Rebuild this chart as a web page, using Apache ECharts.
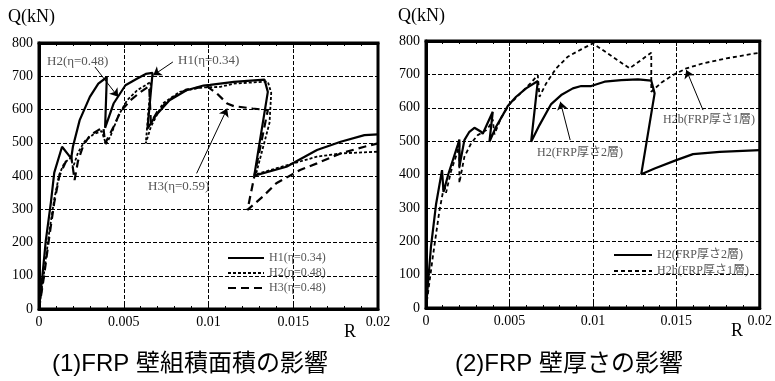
<!DOCTYPE html>
<html>
<head>
<meta charset="utf-8">
<script src="https://cdn.jsdelivr.net/npm/echarts@6/dist/echarts.min.js"></script>
<style>
  html, body { margin: 0; padding: 0; background: #fff; }
  #main { width: 775px; height: 381px; }
</style>
</head>
<body>
<div id="main"></div>
<script>
// (1) FRP 壁組積面積の影響  -- [R, Q(kN)]
var h1 = [[0,0],[0.0002,100],[0.0004,205],[0.0007,320],[0.0009,410],[0.00136,488],[0.0019,453],[0.002,488],
  [0.0024,568],[0.003,638],[0.0035,678],[0.004,697],[0.0039,545],[0.0044,618],[0.0051,673],[0.0058,693],
  [0.0063,707],[0.0067,710],[0.0064,542],[0.0069,583],[0.0077,628],[0.0087,658],[0.0097,672],[0.0101,674],
  [0.0115,683],[0.0133,690],[0.0135,653],[0.0127,401],[0.0146,428],[0.0164,478],[0.0178,503],[0.0192,523],[0.02,525]];
var h2 = [[0,0],[0.0003,110],[0.0006,230],[0.0009,330],[0.0012,405],[0.0015,440],[0.0019,455],[0.002,425],
  [0.0023,470],[0.0027,505],[0.0032,525],[0.0037,535],[0.00395,496],[0.0042,518],[0.0047,583],[0.0052,628],
  [0.0058,658],[0.0066,683],[0.0063,498],[0.0066,548],[0.0073,618],[0.0083,653],[0.0095,666],[0.0107,668],
  [0.0115,678],[0.0135,684],[0.0137,650],[0.0136,560],[0.0128,405],[0.015,438],[0.0164,458],[0.0178,468],[0.02,473]];
var h3 = [[0,0],[0.0003,100],[0.0006,215],[0.0009,320],[0.0012,400],[0.0016,445],[0.0019,460],[0.0021,388],
  [0.0023,445],[0.0026,490],[0.003,522],[0.0035,538],[0.0038,545],[0.0039,498],[0.0044,548],[0.0048,593],
  [0.0054,628],[0.006,653],[0.0065,670],[0.0066,560],[0.007,595],[0.0077,630],[0.0087,660],[0.0099,670],
  [0.0105,648],[0.0111,618],[0.0115,610],[0.0126,603],[0.0135,598],[0.0123,298],[0.0132,338],[0.014,378],
  [0.0154,418],[0.0164,438],[0.0178,468],[0.0192,488],[0.02,498]];

// (2) FRP 壁厚さの影響
var h2s = [[0,0],[0.0003,185],[0.0006,310],[0.00096,413],[0.00105,348],[0.00135,403],[0.00164,448],[0.0019,488],
  [0.002,505],[0.002,423],[0.0023,503],[0.0026,528],[0.0029,540],[0.0033,528],[0.0034,522],[0.004,588],
  [0.0038,498],[0.0042,543],[0.0046,578],[0.0049,605],[0.0054,633],[0.006,658],[0.0067,680],[0.0063,498],
  [0.0068,548],[0.0075,611],[0.0081,638],[0.0088,658],[0.0093,665],[0.0099,665],[0.0107,678],[0.0117,683],
  [0.0127,685],[0.0135,681],[0.0137,643],[0.0129,401],[0.0137,418],[0.015,443],[0.016,461],[0.0176,468],[0.02,473]];
var h2b = [[0,0],[0.0004,150],[0.0008,290],[0.0011,370],[0.0012,345],[0.0015,410],[0.0019,470],[0.002,500],
  [0.002,375],[0.0023,453],[0.0027,493],[0.0031,518],[0.0036,533],[0.0038,545],[0.004,565],[0.0041,520],
  [0.0045,570],[0.005,610],[0.0057,645],[0.0063,675],[0.0067,698],[0.0068,633],[0.0072,673],[0.0078,718],
  [0.0085,753],[0.0093,775],[0.01,793],[0.0122,718],[0.0135,765],[0.0135,648],[0.0141,675],[0.0148,698],
  [0.0156,718],[0.0166,733],[0.018,748],[0.02,765]];

var names1 = ['H1(η=0.34)', 'H2(η=0.48)', 'H3(η=0.48)'];
var names2 = ['H2(FRP厚さ2層)', 'H2h(FRP厚さ1層)'];

var serif = '"Liberation Serif", "Noto Sans CJK JP", serif';
var sans = '"Liberation Sans", "Noto Sans CJK JP", sans-serif';
var noteColor = '#555';

var myChart = echarts.init(document.getElementById('main'));

var gridLine = { show: true, lineStyle: { color: '#000', type: 'dashed', dashOffset: 0, width: 1, opacity: 1 } };

function xAx(gi) {
    return {
        type: 'value', gridIndex: gi, min: 0, max: 0.02, interval: 0.005,
        axisLine: { lineStyle: { color: '#000', width: 3 } },
        axisTick: { inside: true, length: 5, lineStyle: { color: '#000' } },
        minorTick: { show: true, splitNumber: 5, length: 3, lineStyle: { color: '#000' } },
        axisLabel: { color: '#000', fontFamily: serif, fontSize: 14, margin: 6,
            formatter: function (v) { return String(+v.toFixed(3)); } },
        splitLine: gridLine
    };
}
// top edge: only the small inward ticks
function xTop(gi) {
    return {
        type: 'value', gridIndex: gi, position: 'top', min: 0, max: 0.02, interval: 0.005,
        axisLine: { show: true, lineStyle: { color: '#000', width: 3 } },
        axisTick: { show: true, inside: true, length: 5, lineStyle: { color: '#000' } },
        minorTick: { show: true, splitNumber: 5, length: 3, lineStyle: { color: '#000' } },
        axisLabel: { show: false },
        splitLine: { show: false }
    };
}
function yAx(gi) {
    return {
        type: 'value', gridIndex: gi, min: 0, max: 800, interval: 100,
        axisLine: { show: true, lineStyle: { color: '#000', width: 3 } },
        axisTick: { show: true, inside: true, length: 4, lineStyle: { color: '#000' } },
        axisLabel: { color: '#000', fontFamily: serif, fontSize: 14, margin: 6 },
        splitLine: gridLine
    };
}
function arrow(from, to) {
    return [{ coord: from }, { coord: to }];
}
var mlBase = {
    silent: true, symbol: ['none', 'arrow'], symbolSize: 8,
    label: { show: false },
    lineStyle: { color: '#000', type: 'solid', width: 1 }
};

option = {
    animation: false,
    grid: [
        { left: 39, top: 43, width: 339, height: 266, show: true, borderColor: '#000', borderWidth: 3 },
        { left: 426, top: 41, width: 338, height: 267, show: true, borderColor: '#000', borderWidth: 3 }
    ],
    xAxis: [xAx(0), xAx(1), xTop(0), xTop(1)],
    yAxis: [yAx(0), yAx(1)],
    legend: [
        { data: names1, orient: 'vertical', left: 222, top: 247, itemWidth: 36, itemHeight: 12, itemGap: 3,
          itemStyle: { opacity: 0 },
          textStyle: { color: noteColor, fontFamily: serif, fontSize: 12 } },
        { data: names2, orient: 'vertical', left: 608, top: 244, itemWidth: 38, itemHeight: 12, itemGap: 4,
          itemStyle: { opacity: 0 },
          textStyle: { color: noteColor, fontFamily: serif, fontSize: 12 } }
    ],
    series: [
        { name: names1[0], type: 'line', xAxisIndex: 0, yAxisIndex: 0, data: h1, symbol: 'none', color: '#000',
          lineStyle: { color: '#000', width: 2.2, type: 'solid' },
          markLine: Object.assign({}, mlBase, { data: [arrow([0.0079, 743], [0.00674, 703])] }) },
        { name: names1[1], type: 'line', xAxisIndex: 0, yAxisIndex: 0, data: h2, symbol: 'none', color: '#000',
          lineStyle: { color: '#000', width: 1.8, type: [3, 2] },
          markLine: Object.assign({}, mlBase, { data: [arrow([0.0033, 728], [0.00467, 638])] }) },
        { name: names1[2], type: 'line', xAxisIndex: 0, yAxisIndex: 0, data: h3, symbol: 'none', color: '#000',
          lineStyle: { color: '#000', width: 2.2, type: [8, 5] },
          markLine: Object.assign({}, mlBase, { data: [arrow([0.0093, 408], [0.0111, 603])] }) },
        { name: names2[0], type: 'line', xAxisIndex: 1, yAxisIndex: 1, data: h2s, symbol: 'none', color: '#000',
          lineStyle: { color: '#000', width: 2.2, type: 'solid' },
          markLine: Object.assign({}, mlBase, { data: [arrow([0.00864, 503], [0.00805, 618])] }) },
        { name: names2[1], type: 'line', xAxisIndex: 1, yAxisIndex: 1, data: h2b, symbol: 'none', color: '#000',
          lineStyle: { color: '#000', width: 1.8, type: [4, 3] },
          markLine: Object.assign({}, mlBase, { data: [arrow([0.0166, 593], [0.0156, 713])] }) }
    ],
    graphic: [
        { type: 'text', left: 8, top: 8, style: { text: 'Q(kN)', font: '18px ' + serif, fill: '#000' } },
        { type: 'text', left: 398, top: 7, style: { text: 'Q(kN)', font: '18px ' + serif, fill: '#000' } },
        { type: 'text', left: 344, top: 323, style: { text: 'R', font: '18px ' + serif, fill: '#000' } },
        { type: 'text', left: 731, top: 322, style: { text: 'R', font: '18px ' + serif, fill: '#000' } },
        { type: 'text', left: 47, top: 55, style: { text: 'H2(η=0.48)', font: '13px ' + serif, fill: noteColor } },
        { type: 'text', left: 178, top: 54, style: { text: 'H1(η=0.34)', font: '13px ' + serif, fill: noteColor } },
        { type: 'text', left: 148, top: 180, style: { text: 'H3(η=0.59)', font: '13px ' + serif, fill: noteColor } },
        { type: 'text', left: 537, top: 147, style: { text: 'H2(FRP厚さ2層)', font: '12px ' + serif, fill: noteColor } },
        { type: 'text', left: 663, top: 114, style: { text: 'H2b(FRP厚さ1層)', font: '12px ' + serif, fill: noteColor } },
        { type: 'text', left: 52, top: 352, style: { text: '(1)FRP 壁組積面積の影響', font: '24px ' + sans, fill: '#000' } },
        { type: 'text', left: 455, top: 352, style: { text: '(2)FRP 壁厚さの影響', font: '24px ' + sans, fill: '#000' } }
    ]
};

myChart.setOption(option);
</script>
</body>
</html>
